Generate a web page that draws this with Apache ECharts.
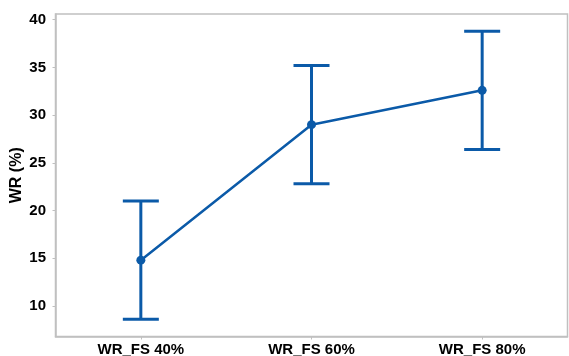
<!DOCTYPE html>
<html>
<head>
<meta charset="utf-8">
<script src="https://cdn.jsdelivr.net/npm/echarts@6/dist/echarts.min.js"></script>
<style>
  html, body { margin: 0; padding: 0; background: #fff; }
  #chart { width: 569px; height: 356px; }
</style>
</head>
<body>
<div id="chart"></div>
<script>
// Window ratio by fill setting: mean with lower/upper interval bounds
const categories = ['WR_FS 40%', 'WR_FS 60%', 'WR_FS 80%'];
const meanValues = [14.8, 29.0, 32.6];
const lowerValues = [8.6, 22.8, 26.4];
const upperValues = [21.0, 35.2, 38.8];
const yTicks = [10, 15, 20, 25, 30, 35, 40];

const blue = '#0b5aa8';
const errorData = categories.map((c, i) => [i, lowerValues[i], upperValues[i]]);
const font = 'Liberation Sans, Arial, sans-serif';

const chart = echarts.init(document.getElementById('chart'), null, { renderer: 'canvas' });
chart.setOption({
  animation: false,
  backgroundColor: '#fff',
  grid: {
    left: 55.5, right: 1.5, top: 14, bottom: 19.5,
    containLabel: false,
    outerBoundsMode: 'none',
    show: true, borderColor: '#c0c0c0', borderWidth: 1.5, backgroundColor: 'transparent'
  },
  xAxis: {
    type: 'category',
    data: categories,
    boundaryGap: true,
    axisLine: { show: true, lineStyle: { color: '#c0c0c0', width: 1.5 } },
    axisTick: { show: true, alignWithLabel: true, length: 3, lineStyle: { color: '#c0c0c0' } },
    axisLabel: { color: '#000', fontFamily: font, fontWeight: 'bold', fontSize: 15, margin: 6 },
    splitLine: { show: false }
  },
  yAxis: {
    type: 'value',
    min: 6.8, max: 40.6,
    name: 'WR (%)',
    nameLocation: 'middle',
    nameGap: 31,
    nameMoveOverlap: false,
    nameTextStyle: { color: '#000', fontFamily: font, fontWeight: 'bold', fontSize: 16 },
    axisLine: { show: true, lineStyle: { color: '#c0c0c0', width: 1.5 } },
    axisTick: { show: true, length: 3, lineStyle: { color: '#c0c0c0' }, customValues: yTicks },
    axisLabel: {
      color: '#000', fontFamily: font, fontWeight: 'bold', fontSize: 15, margin: 9.5,
      customValues: yTicks
    },
    splitLine: { show: false }
  },
  series: [
    {
      type: 'custom',
      data: errorData,
      z: 3,
      renderItem: function (params, api) {
        const x = api.value(0);
        const lo = api.coord([x, api.value(1)]);
        const hi = api.coord([x, api.value(2)]);
        const half = 18;
        const style = { stroke: blue, lineWidth: 3, fill: null };
        return {
          type: 'group',
          children: [
            { type: 'line', shape: { x1: lo[0], y1: lo[1], x2: hi[0], y2: hi[1] }, style: style },
            { type: 'line', shape: { x1: lo[0] - half, y1: lo[1], x2: lo[0] + half, y2: lo[1] }, style: style },
            { type: 'line', shape: { x1: hi[0] - half, y1: hi[1], x2: hi[0] + half, y2: hi[1] }, style: style }
          ]
        };
      }
    },
    {
      type: 'line',
      data: meanValues,
      z: 4,
      symbol: 'circle',
      symbolSize: 9,
      itemStyle: { color: blue },
      lineStyle: { color: blue, width: 2.5 }
    }
  ]
});
</script>
</body>
</html>
